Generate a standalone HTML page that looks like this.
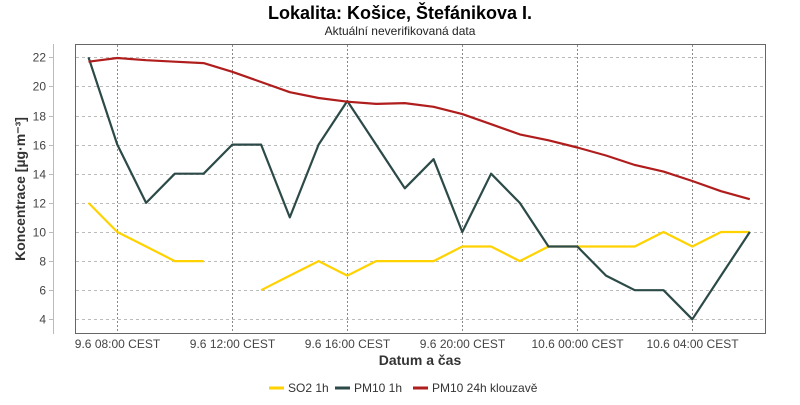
<!DOCTYPE html>
<html><head><meta charset="utf-8"><style>
body{margin:0;background:#fff;font-family:"Liberation Sans",sans-serif}
svg text{font-family:"Liberation Sans",sans-serif}
</style></head><body>
<svg width="800" height="400" xmlns="http://www.w3.org/2000/svg">
<text x="400" y="19" text-anchor="middle" font-size="18" font-weight="bold" fill="#000">Lokalita: Košice, Štefánikova I.</text>
<text x="400" y="35" text-anchor="middle" font-size="12" fill="#222">Aktuální neverifikovaná data</text>
<g id="grid"></g>
<rect x="75.5" y="44.5" width="690" height="289" fill="none" stroke="#666"/>
<line x1="53.5" y1="44" x2="53.5" y2="334" stroke="#bbb"/>
<g id="yticks"></g>
<g id="xticks"></g>
<g id="series"></g>
<text transform="translate(25,189) rotate(-90)" text-anchor="middle" font-size="14" font-weight="bold" fill="#333">Koncentrace [µg·m⁻³]</text>
<text x="420" y="365" text-anchor="middle" font-size="14" font-weight="bold" fill="#333">Datum a čas</text>
<g font-size="12" fill="#333">
<g><line x1="269" y1="388" x2="284" y2="388" stroke="#ffd200" stroke-width="3"/><text x="288" y="392">SO2 1h</text></g>
<g><line x1="335" y1="388" x2="350" y2="388" stroke="#2c4a47" stroke-width="3"/><text x="354" y="392">PM10 1h</text></g>
<g><line x1="413" y1="388" x2="428" y2="388" stroke="#b01d1d" stroke-width="3"/><text x="432" y="392">PM10 24h klouzavě</text></g>
</g>
</svg>
<script>
const hours=[7,8,9,10,11,12,13,14,15,16,17,18,19,20,21,22,23,24,25,26,27,28,29,30];
const so2=[12,10,9,8,8,null,6,7,8,7,8,8,8,9,9,8,9,9,9,9,10,9,10,10];
const pm10=[22,16,12,14,14,16,16,11,16,19,16,13,15,10,14,12,9,9,7,6,6,4,7,10];
const pm10avg=[21.7,21.95,21.8,21.7,21.6,21.0,20.3,19.6,19.2,18.95,18.8,18.85,18.6,18.1,17.4,16.7,16.3,15.8,15.25,14.6,14.15,13.5,12.8,12.25];
const yTicks=[4,6,8,10,12,14,16,18,20,22];
const xTickHours=[8,12,16,20,24,28];
const xTickLabels=["9.6 08:00 CEST","9.6 12:00 CEST","9.6 16:00 CEST","9.6 20:00 CEST","10.6 00:00 CEST","10.6 04:00 CEST"];
const NS="http://www.w3.org/2000/svg";
function X(h){return 117.3+(h-8)*28.75;}
function Y(v){return 319.3-(v-4)*14.556;}
function mk(t,a,p){const e=document.createElementNS(NS,t);for(const k in a)e.setAttribute(k,a[k]);p.appendChild(e);return e;}
const grid=document.getElementById('grid'),yt=document.getElementById('yticks'),xt=document.getElementById('xticks'),ser=document.getElementById('series');
yTicks.forEach(v=>{const y=Math.round(Y(v))+0.5;
 const g=mk('line',{x1:76,x2:765,y1:y,y2:y,stroke:'#bbb','stroke-dasharray':'3,3'},grid);
 
 
 const tk=mk('line',{x1:49,x2:53,y1:y,y2:y,stroke:'#bbb'},yt);
 
 
 const t=mk('text',{x:46,y:y+4,'text-anchor':'end','font-size':12,fill:'#444'},yt);t.textContent=v;
 
 
});
xTickHours.forEach((h,i)=>{const x=Math.round(X(h))+0.5;
 const g=mk('line',{x1:x,x2:x,y1:45,y2:333,stroke:'#888','stroke-dasharray':'2,2'},grid);
 
 
 const t=mk('text',{x:x,y:348,'text-anchor':'middle','font-size':12,fill:'#444'},xt);t.textContent=xTickLabels[i];
 
 
});
function line(vals,color,name){let d='',pen=false;
 vals.forEach((v,i)=>{if(v==null){pen=false;return;}d+=(pen?'L':'M')+X(hours[i]).toFixed(1)+','+Y(v).toFixed(1);pen=true;});
 const p=mk('path',{d:d,fill:'none',stroke:color,'stroke-width':2.2,'stroke-linejoin':'round'},ser);
 
 
}
line(so2,'#ffd200','so2-line');
line(pm10,'#2c4a47','pm10-1h-line');
line(pm10avg,'#b01d1d','pm10-24h-line');
</script>
</body></html>
